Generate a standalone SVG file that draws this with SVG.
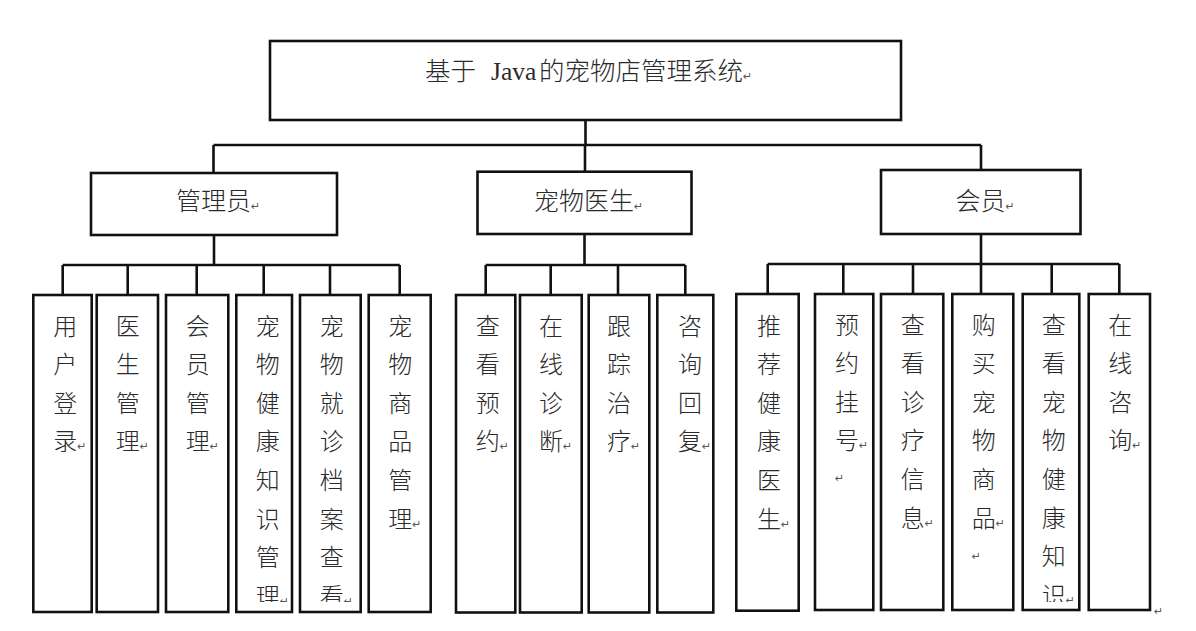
<svg xmlns="http://www.w3.org/2000/svg" width="1196" height="631" viewBox="0 0 1196 631">
<defs>
<style>
.box{fill:#fff;stroke:#111;stroke-width:2.6}
.conn{fill:none;stroke:#111;stroke-width:2.6}
.t{font-family:"Noto Sans CJK SC",sans-serif;font-size:25px;font-weight:300;fill:#2a2a2a}
.title{font-family:"Noto Sans CJK SC",sans-serif;font-size:25.5px;font-weight:300;fill:#2a2a2a}
.lat{font-family:"Liberation Serif",serif;font-weight:400}
.v{font-family:"Noto Sans CJK SC",sans-serif;font-size:24px;font-weight:300;fill:#2a2a2a}
.pm{font-family:"DejaVu Sans",sans-serif;font-size:11px;font-weight:400;fill:#555}
</style>
<clipPath id="cut"><rect x="0" y="0" width="1196" height="602"/></clipPath>
</defs>
<rect width="1196" height="631" fill="#fff"/>

<g id="connectors">
<path class="conn" d="M585.5 120V145M213.5 145H981M213.5 145V173M585 145V172M981 145V170"/>
<path class="conn" d="M214 235V265M62.7 265H399.7M62.7 265V295M127.7 265V295M196.7 265V295M263.7 265V295M330 265V295M399.7 265V295"/>
<path class="conn" d="M584.5 234V265M485.7 265H685.3M485.7 265V295M550.7 265V295M618 265V295M685.3 265V295"/>
<path class="conn" d="M981 234V264M767.7 264H1119.3M767.7 264V294M843.3 264V294M913 264V294M981 264V294M1051.7 264V294M1119.3 264V294"/>
</g>

<g id="root">
<rect class="box" x="270" y="41" width="631" height="79"/>
<text class="title" y="80"><tspan x="425">基于 </tspan><tspan class="lat" x="491">Java </tspan><tspan x="539">的宠物店管理系统</tspan><tspan class="pm">↵</tspan></text>
</g>

<g id="admin">
<rect class="box" x="91" y="173" width="246" height="62"/>
<text class="t" x="176" y="210">管理员<tspan class="pm">↵</tspan></text>
</g>
<g id="doctor">
<rect class="box" x="477.5" y="171.7" width="214" height="62.3"/>
<text class="t" x="534" y="210">宠物医生<tspan class="pm">↵</tspan></text>
</g>
<g id="member">
<rect class="box" x="881" y="170" width="199.5" height="64"/>
<text class="t" x="955.5" y="209.5">会员<tspan class="pm">↵</tspan></text>
</g>

<g id="a1">
<rect class="box" x="33.3" y="295" width="58.4" height="317"/>
<text class="v" y="334.6"><tspan x="53.3">用</tspan><tspan x="53.3" dy="38.6">户</tspan><tspan x="53.3" dy="38.6">登</tspan><tspan x="53.3" dy="38.6">录</tspan><tspan class="pm">↵</tspan></text>
</g>
<g id="a2">
<rect class="box" x="96.7" y="295" width="61.3" height="317"/>
<text class="v" y="334.6"><tspan x="115.7">医</tspan><tspan x="115.7" dy="38.6">生</tspan><tspan x="115.7" dy="38.6">管</tspan><tspan x="115.7" dy="38.6">理</tspan><tspan class="pm">↵</tspan></text>
</g>
<g id="a3">
<rect class="box" x="166" y="295" width="62.3" height="317"/>
<text class="v" y="334.6"><tspan x="185.7">会</tspan><tspan x="185.7" dy="38.6">员</tspan><tspan x="185.7" dy="38.6">管</tspan><tspan x="185.7" dy="38.6">理</tspan><tspan class="pm">↵</tspan></text>
</g>
<g id="a4">
<rect class="box" x="236.3" y="295" width="55.7" height="317"/>
<text class="v" y="334.6" clip-path="url(#cut)"><tspan x="255.7">宠</tspan><tspan x="255.7" dy="38.6">物</tspan><tspan x="255.7" dy="38.6">健</tspan><tspan x="255.7" dy="38.6">康</tspan><tspan x="255.7" dy="38.6">知</tspan><tspan x="255.7" dy="38.6">识</tspan><tspan x="255.7" dy="38.6">管</tspan><tspan x="255.7" dy="38.6">理</tspan><tspan class="pm">↵</tspan></text>
</g>
<g id="a5">
<rect class="box" x="300" y="295" width="60.7" height="317"/>
<text class="v" y="334.6" clip-path="url(#cut)"><tspan x="319.7">宠</tspan><tspan x="319.7" dy="38.6">物</tspan><tspan x="319.7" dy="38.6">就</tspan><tspan x="319.7" dy="38.6">诊</tspan><tspan x="319.7" dy="38.6">档</tspan><tspan x="319.7" dy="38.6">案</tspan><tspan x="319.7" dy="38.6">查</tspan><tspan x="319.7" dy="38.6">看</tspan><tspan class="pm">↵</tspan></text>
</g>
<g id="a6">
<rect class="box" x="368.7" y="295" width="62" height="317"/>
<text class="v" y="334.6"><tspan x="388.3">宠</tspan><tspan x="388.3" dy="38.6">物</tspan><tspan x="388.3" dy="38.6">商</tspan><tspan x="388.3" dy="38.6">品</tspan><tspan x="388.3" dy="38.6">管</tspan><tspan x="388.3" dy="38.6">理</tspan><tspan class="pm">↵</tspan></text>
</g>

<g id="d1">
<rect class="box" x="456" y="295" width="59.3" height="317.5"/>
<text class="v" y="334.6"><tspan x="475.7">查</tspan><tspan x="475.7" dy="38.6">看</tspan><tspan x="475.7" dy="38.6">预</tspan><tspan x="475.7" dy="38.6">约</tspan><tspan class="pm">↵</tspan></text>
</g>
<g id="d2">
<rect class="box" x="520" y="295" width="61.7" height="317.5"/>
<text class="v" y="334.6"><tspan x="539">在</tspan><tspan x="539" dy="38.6">线</tspan><tspan x="539" dy="38.6">诊</tspan><tspan x="539" dy="38.6">断</tspan><tspan class="pm">↵</tspan></text>
</g>
<g id="d3">
<rect class="box" x="588.7" y="295" width="60.6" height="317.5"/>
<text class="v" y="334.6"><tspan x="607">跟</tspan><tspan x="607" dy="38.6">踪</tspan><tspan x="607" dy="38.6">治</tspan><tspan x="607" dy="38.6">疗</tspan><tspan class="pm">↵</tspan></text>
</g>
<g id="d4">
<rect class="box" x="657.3" y="295" width="56" height="317.5"/>
<text class="v" y="334.6"><tspan x="678">咨</tspan><tspan x="678" dy="38.6">询</tspan><tspan x="678" dy="38.6">回</tspan><tspan x="678" dy="38.6">复</tspan><tspan class="pm">↵</tspan></text>
</g>

<g id="m1">
<rect class="box" x="736.3" y="294" width="62.4" height="316.7"/>
<text class="v" y="334.6"><tspan x="757">推</tspan><tspan x="757" dy="38.6">荐</tspan><tspan x="757" dy="38.6">健</tspan><tspan x="757" dy="38.6">康</tspan><tspan x="757" dy="38.6">医</tspan><tspan x="757" dy="38.6">生</tspan><tspan class="pm">↵</tspan></text>
</g>
<g id="m2">
<rect class="box" x="815" y="294" width="58.3" height="316"/>
<text class="v" y="333.5"><tspan x="835">预</tspan><tspan x="835" dy="38.6">约</tspan><tspan x="835" dy="38.6">挂</tspan><tspan x="835" dy="38.6">号</tspan><tspan class="pm">↵</tspan><tspan class="pm" x="835" dy="33">↵</tspan></text>
</g>
<g id="m3">
<rect class="box" x="881" y="294" width="62.3" height="316"/>
<text class="v" y="333.5"><tspan x="900.7">查</tspan><tspan x="900.7" dy="38.6">看</tspan><tspan x="900.7" dy="38.6">诊</tspan><tspan x="900.7" dy="38.6">疗</tspan><tspan x="900.7" dy="38.6">信</tspan><tspan x="900.7" dy="38.6">息</tspan><tspan class="pm">↵</tspan></text>
</g>
<g id="m4">
<rect class="box" x="952.3" y="294" width="61" height="316"/>
<text class="v" y="333.5"><tspan x="971.7">购</tspan><tspan x="971.7" dy="38.6">买</tspan><tspan x="971.7" dy="38.6">宠</tspan><tspan x="971.7" dy="38.6">物</tspan><tspan x="971.7" dy="38.6">商</tspan><tspan x="971.7" dy="38.6">品</tspan><tspan class="pm">↵</tspan><tspan class="pm" x="971.7" dy="33">↵</tspan></text>
</g>
<g id="m5">
<rect class="box" x="1022.7" y="294" width="56.6" height="316"/>
<text class="v" y="333.5" clip-path="url(#cut)"><tspan x="1041.7">查</tspan><tspan x="1041.7" dy="38.6">看</tspan><tspan x="1041.7" dy="38.6">宠</tspan><tspan x="1041.7" dy="38.6">物</tspan><tspan x="1041.7" dy="38.6">健</tspan><tspan x="1041.7" dy="38.6">康</tspan><tspan x="1041.7" dy="38.6">知</tspan><tspan x="1041.7" dy="38.6">识</tspan><tspan class="pm">↵</tspan></text>
</g>
<g id="m6">
<rect class="box" x="1088.7" y="294" width="61.3" height="316"/>
<text class="v" y="333.5"><tspan x="1108.3">在</tspan><tspan x="1108.3" dy="38.6">线</tspan><tspan x="1108.3" dy="38.6">咨</tspan><tspan x="1108.3" dy="38.6">询</tspan><tspan class="pm">↵</tspan></text>
</g>

<text class="pm" x="1154" y="615">↵</text>
</svg>
